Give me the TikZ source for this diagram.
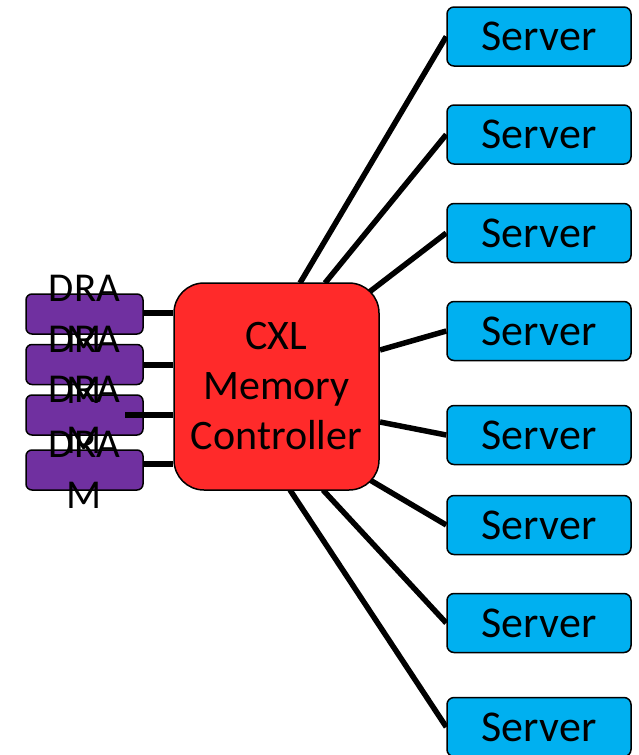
\documentclass[tikz,border=0pt]{standalone}
\usepackage{fontspec}
\setmainfont{Carlito}
\usetikzlibrary{calc,backgrounds}
\definecolor{srvblue}{HTML}{00B0F0}
\definecolor{drampurple}{HTML}{7030A0}
\definecolor{cxlred}{HTML}{FF2A2A}
\tikzset{
  serverbox/.style={draw=black, line width=1.5pt, fill=srvblue, rounded corners=7pt,
    minimum width=184pt, minimum height=59pt, inner sep=0pt,
    font=\fontsize{44}{50}\selectfont},
  drambox/.style={draw=black, line width=1.5pt, fill=drampurple, rounded corners=6pt,
    minimum width=117pt, minimum height=40pt, inner sep=0pt},
  dramlabel/.style={align=center, inner sep=0pt, font=\fontsize{41}{51}\selectfont},
  cxlbox/.style={draw=black, line width=1.5pt, fill=cxlred, rounded corners=30pt,
    minimum width=205pt, minimum height=207pt, inner sep=0pt, align=center,
    font=\fontsize{42}{50}\selectfont},
  wire/.style={line width=5.5pt, black}
}
\begin{document}
\begin{tikzpicture}[x=1pt,y=-1pt]
\useasboundingbox (0,0) rectangle (638,755);
% servers
\node[serverbox] (s1) at (539,36.5) {Server};
\node[serverbox] (s2) at (539,134.5) {Server};
\node[serverbox] (s3) at (539,233) {Server};
\node[serverbox] (s4) at (539,331) {Server};
\node[serverbox] (s5) at (539,435) {Server};
\node[serverbox] (s6) at (539,525) {Server};
\node[serverbox] (s7) at (539,623) {Server};
\node[serverbox] (s8) at (539,727) {Server};
% controller
\node[cxlbox] (cxl) at (276.5,386.5) {CXL\\Memory\\Controller};
% DRAM boxes
\node[drambox] (d1) at (84.5,314) {};
\node[drambox] (d2) at (84.5,364.5) {};
\node[drambox] (d3) at (84.5,415) {};
\node[drambox] (d4) at (84.5,470) {};
% wires behind
\begin{scope}[on background layer]
\draw[wire] ($(cxl.center)+(23.5,-103.5)$) -- (s1.west);
\draw[wire] ($(cxl.center)+(48.5,-103.5)$) -- (s2.west);
\draw[wire] ($(cxl.center)+(91.5,-93.5)$) -- (s3.west);
\draw[wire] ($(cxl.center)+(103.5,-36.5)$) -- (s4.west);
\draw[wire] ($(cxl.center)+(103.5,35.5)$) -- (s5.west);
\draw[wire] ($(cxl.center)+(93.5,93.5)$) -- (s6.west);
\draw[wire] ($(cxl.center)+(46.5,103.5)$) -- (s7.west);
\draw[wire] ($(cxl.center)+(13.5,103.5)$) -- (s8.west);
\draw[wire] (d1.east |- 0,313) -- (cxl.west |- 0,313);
\draw[wire] (d2.east |- 0,365) -- (cxl.west |- 0,365);
\draw[wire] (d4.east |- 0,464) -- (cxl.west |- 0,464);
\end{scope}
\draw[wire] ($(d3.center)+(40.5,0)$) -- (cxl.west |- d3.center);
% DRAM labels
\node[dramlabel] (t1) at (d1.center) {DRA\\M};
\node[dramlabel] (t2) at (d2.center) {DRA\\M};
\node[dramlabel] (t3) at (d3.center) {DRA\\M};
\node[dramlabel] (t4) at (d4.center) {DRA\\M};
\end{tikzpicture}
\end{document}
